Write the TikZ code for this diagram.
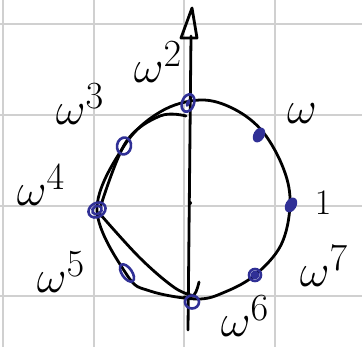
\documentclass[tikz,border=0pt]{standalone}
\usetikzlibrary{calc}
\definecolor{gridgray}{RGB}{208,208,208}
\definecolor{penblue}{RGB}{48,48,150}
\tikzset{
  gridline/.style={gridgray, line width=2pt},
  ink/.style={black, line width=2.8pt, line cap=round, line join=round},
  dotmark/.style={penblue, line width=2.6pt},
  lbl/.style={font=\Huge, inner sep=0pt, scale=1.85},
}
\begin{document}
\begin{tikzpicture}[x=1pt,y=-1pt]
\useasboundingbox (0,0) rectangle (362,347);
\fill[white] (0,0) rectangle (362,347);
% grid
\foreach \gx in {3,94,184,275} \draw[gridline] (\gx,0) -- (\gx,347);
\foreach \gy in {24,115,206,296} \draw[gridline] (0,\gy) -- (362,\gy);
% axis
\coordinate (axb) at (188,330);
\coordinate (axt) at (191,36);
\draw[ink] (axb) -- (axt);
\coordinate (tipl) at (181,38);
\coordinate (tipr) at (197,38);
\coordinate (tip) at (192,8);
\draw[ink] (tipl) -- (tip) -- (tipr) -- cycle;
\coordinate (ctr) at (190,203);
\fill (ctr) circle (2pt);
% circle (outer stroke)
\draw[ink] plot[smooth cycle, tension=0.6] coordinates {
 (200,100) (234,109) (263,132) (284,170) (290,205) (281,245) (255,275)
 (225,292) (197,299) (150,291) (127,275) (97,210) (124,146) (160,112)};
% inner strokes
\draw[ink] plot[smooth, tension=0.6] coordinates {
 (186,116) (160,116) (126,142) (101,205)};
\draw[ink] plot[smooth, tension=0.6] coordinates {
 (100,214) (140,258) (175,288) (195,296)};
\draw[ink] plot[smooth, tension=0.7] coordinates {(184,297) (194,295) (199,282)};
% dots
\coordinate (p0) at (291,205);
\coordinate (p1) at (259,135);
\coordinate (p2) at (188,103);
\coordinate (p3) at (124,146);
\coordinate (p4) at (97,210);
\coordinate (p5) at (127,273);
\coordinate (p6) at (192,302);
\coordinate (p7) at (255,275);
\fill[penblue, rotate around={60:(p0)}] (p0) ellipse (8pt and 5.5pt);
\fill[penblue, rotate around={60:(p1)}] (p1) ellipse (8pt and 5.5pt);
\draw[dotmark, rotate around={70:(p2)}] (p2) ellipse (9pt and 6pt);
\fill[penblue, rotate around={70:(p2)}] (p2) ellipse (4pt and 2pt);
\draw[dotmark, rotate around={80:(p3)}] (p3) ellipse (8.5pt and 7pt);
\draw[dotmark, rotate around={30:(p4)}] (p4) ellipse (9pt and 7pt);
\draw[dotmark, rotate around={30:(p4)}] (p4) ellipse (5pt and 4pt);
\draw[dotmark, rotate around={-55:(p5)}] (p5) ellipse (10pt and 5pt);
\draw[dotmark] (p6) ellipse (7pt and 6.5pt);
\draw[dotmark] (p7) circle (6pt);
\fill[penblue] (p7) circle (4.5pt);
% labels
\node[lbl, scale=0.78] (l0) at (323,203) {$1$};
\node[lbl] (l1) at (302,114) {$\omega$};
\node[lbl] (l2) at (158,62) {$\omega^{2}$};
\node[lbl] (l3) at (80,104) {$\omega^{3}$};
\node[lbl] (l4) at (41,185) {$\omega^{4}$};
\node[lbl] (l5) at (61,272) {$\omega^{5}$};
\node[lbl] (l6) at (245,316) {$\omega^{6}$};
\node[lbl] (l7) at (324,266) {$\omega^{7}$};
\end{tikzpicture}
\end{document}
